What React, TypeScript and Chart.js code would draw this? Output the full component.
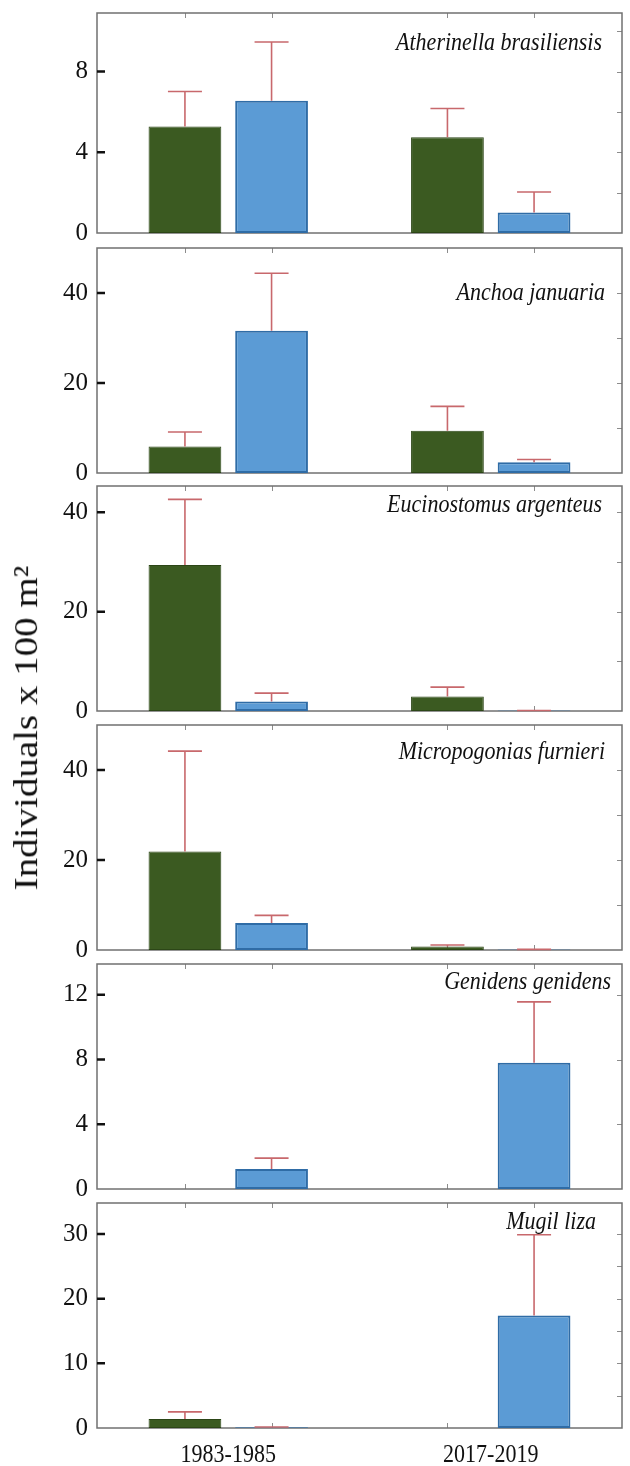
import React, { useEffect, useRef } from "react";
import { Chart, registerables } from "chart.js";

Chart.register(...registerables);

// ---------- data ----------
const categories = ["1983-1985", "2017-2019"];
const seriesNames = ["Group A", "Group B"];
const species = [
  "Atherinella brasiliensis",
  "Anchoa januaria",
  "Eucinostomus argenteus",
  "Micropogonias furnieri",
  "Genidens genidens",
  "Mugil liza",
];
// mean values per panel: [1983-1985, 2017-2019]
const greenMeans: (number | null)[][] = [
  [5.28, 4.74],
  [5.9, 9.4],
  [29.4, 2.9],
  [21.9, 0.8],
  [null, null],
  [1.4, null],
];
const blueMeans: (number | null)[][] = [
  [6.55, 1.02],
  [31.6, 2.4],
  [1.9, 0.1],
  [6.0, 0.1],
  [1.23, 7.8],
  [0.1, 17.4],
];
// upper end of the error bars (mean + error)
const greenUpper: (number | null)[][] = [
  [7.01, 6.17],
  [9.1, 14.8],
  [42.6, 4.8],
  [44.2, 1.1],
  [null, null],
  [2.5, null],
];
const blueUpper: (number | null)[][] = [
  [9.46, 2.03],
  [44.4, 3.0],
  [3.6, 0.1],
  [7.7, 0.15],
  [1.91, 11.56],
  [0.15, 29.9],
];
const yMax = [10.9, 50, 45.3, 50, 13.9, 34.8];
const yStep = [4, 20, 20, 20, 4, 10];
const yMinorStep = [2, 10, 10, 10, 4, 5];
const yTitle = "Individuals x 100 m²";

// ---------- layout (pixels) ----------
const W = 630;
const H = 1466;
const panelTop = [13, 248, 486, 725, 964, 1203];
const panelBottom = [233, 473, 711, 950, 1189, 1428];
const labelRight = [602, 605, 602, 605, 611, 596];
const labelDy = [30, 45, 19, 27, 18, 19];
const SERIF = '"Liberation Serif", "Times New Roman", serif';
const GREEN = "#3b5a21";
const GREEN_EDGE = "#2c4617";
const BLUE = "#5b9bd5";
const BLUE_EDGE = "#2f6ca6";
const ERR = "#c8686c";
const FRAME = "#707070";
const SQUEEZE = 0.88;

function Panel({ idx }: { idx: number }) {
  const ref = useRef<HTMLCanvasElement>(null);
  const isLast = idx === species.length - 1;
  const padTop = 28;
  const padBottom = isLast ? H - panelBottom[idx] : 28;
  const canvasTop = panelTop[idx] - padTop;
  const height = panelBottom[idx] - panelTop[idx] + padTop + padBottom;

  useEffect(() => {
    const decor = {
      id: "decor" + idx,
      beforeDatasetsDraw(chart: any) {
        const { ctx, chartArea: a, scales } = chart;
        const y = scales.y;
        ctx.save();
        // minor ticks on the right border
        ctx.strokeStyle = "#8c8c8c";
        ctx.lineWidth = 1;
        ctx.beginPath();
        for (let v = yMinorStep[idx]; v < yMax[idx]; v += yMinorStep[idx]) {
          const py = Math.round(y.getPixelForValue(v)) + 0.5;
          ctx.moveTo(a.right - 5, py);
          ctx.lineTo(a.right, py);
        }
        // ticks at bar centres on top and bottom borders
        for (let di = 0; di < 2; di++) {
          chart.getDatasetMeta(di).data.forEach((el: any) => {
            if (!isFinite(el.x)) return;
            const px = Math.round(el.x) + 0.5;
            ctx.moveTo(px, a.top);
            ctx.lineTo(px, a.top + 5);
            ctx.moveTo(px, a.bottom);
            ctx.lineTo(px, a.bottom - 5);
          });
        }
        ctx.stroke();
        // frame
        ctx.strokeStyle = FRAME;
        ctx.lineWidth = 1.5;
        ctx.strokeRect(a.left, a.top, a.right - a.left, a.bottom - a.top);
        // major ticks on the left border
        ctx.strokeStyle = "#111";
        ctx.lineWidth = 2.5;
        ctx.beginPath();
        y.ticks.forEach((t: any) => {
          if (t.value === 0) return;
          const py = y.getPixelForValue(t.value);
          ctx.moveTo(a.left, py);
          ctx.lineTo(a.left + 8, py);
        });
        ctx.stroke();
        ctx.restore();
      },
      afterDatasetsDraw(chart: any) {
        const { ctx, chartArea: a, scales } = chart;
        const y = scales.y;
        const x = scales.x;
        const uppers = [greenUpper[idx], blueUpper[idx]];
        ctx.save();
        ctx.strokeStyle = ERR;
        ctx.lineWidth = 1.6;
        ctx.beginPath();
        for (let di = 0; di < 2; di++) {
          chart.getDatasetMeta(di).data.forEach((el: any, j: number) => {
            const up = uppers[di][j];
            if (up == null || !isFinite(el.y)) return;
            const yTop = y.getPixelForValue(up);
            ctx.moveTo(el.x, el.y);
            ctx.lineTo(el.x, yTop);
            ctx.moveTo(el.x - 17, yTop);
            ctx.lineTo(el.x + 17, yTop);
          });
        }
        ctx.stroke();
        // species name
        ctx.fillStyle = "#111";
        ctx.font = "italic 25px " + SERIF;
        ctx.textAlign = "right";
        ctx.textBaseline = "middle";
        ctx.translate(labelRight[idx], a.top + labelDy[idx]);
        ctx.scale(SQUEEZE, 1);
        ctx.fillText(species[idx], 0, 0);
        ctx.restore();
        // category labels under the last panel
        if (isLast) {
          ctx.save();
          ctx.fillStyle = "#111";
          ctx.font = "25px " + SERIF;
          ctx.textAlign = "center";
          ctx.textBaseline = "middle";
          categories.forEach((c, i) => {
            ctx.save();
            ctx.translate(x.getPixelForValue(i), 1455 - canvasTop);
            ctx.scale(SQUEEZE, 1);
            ctx.fillText(c, 0, 0);
            ctx.restore();
          });
          ctx.restore();
        }
      },
    };

    const common = {
      categoryPercentage: 0.66,
      barPercentage: 0.84,
      borderSkipped: false,
    };
    const chart = new Chart(ref.current as HTMLCanvasElement, {
      type: "bar",
      data: {
        labels: categories,
        datasets: [
          {
            label: seriesNames[0],
            data: greenMeans[idx],
            backgroundColor: GREEN,
            borderColor: GREEN_EDGE,
            borderWidth: 1,
            ...common,
          } as any,
          {
            label: seriesNames[1],
            data: blueMeans[idx],
            backgroundColor: BLUE,
            borderColor: BLUE_EDGE,
            borderWidth: 2,
            ...common,
          } as any,
        ],
      },
      options: {
        responsive: false,
        animation: false,
        devicePixelRatio: 1,
        layout: { padding: { left: 0, right: W - 622, top: padTop, bottom: padBottom } },
        plugins: { legend: { display: false }, tooltip: { enabled: false } },
        scales: {
          x: { display: false, offset: true },
          y: {
            min: 0,
            max: yMax[idx],
            ticks: {
              stepSize: yStep[idx],
              includeBounds: false,
              autoSkip: false,
              color: "#111",
              padding: 9,
              font: { family: SERIF, size: 25 },
            },
            grid: { display: false, drawTicks: false },
            border: { display: false },
            afterFit: (s: any) => {
              s.width = 97;
            },
          },
        },
      } as any,
      plugins: [decor],
    });
    return () => chart.destroy();
  }, []);

  return (
    <canvas
      ref={ref}
      width={W}
      height={height}
      style={{ position: "absolute", left: 0, top: canvasTop, width: W, height }}
    />
  );
}

export default function App() {
  return (
    <div
      style={{
        position: "absolute",
        left: 0,
        top: 0,
        width: W,
        height: H,
        background: "#fff",
        overflow: "hidden",
      }}
    >
      {species.map((_, i) => (
        <Panel key={i} idx={i} />
      ))}
      <div
        style={{
          position: "absolute",
          left: 25,
          top: 728,
          transform: "translate(-50%, -50%) rotate(-90deg) scale(1, 0.88)",
          whiteSpace: "nowrap",
          fontFamily: SERIF,
          fontSize: 39,
          lineHeight: 1,
          color: "#111",
        }}
      >
        {yTitle}
      </div>
    </div>
  );
}
